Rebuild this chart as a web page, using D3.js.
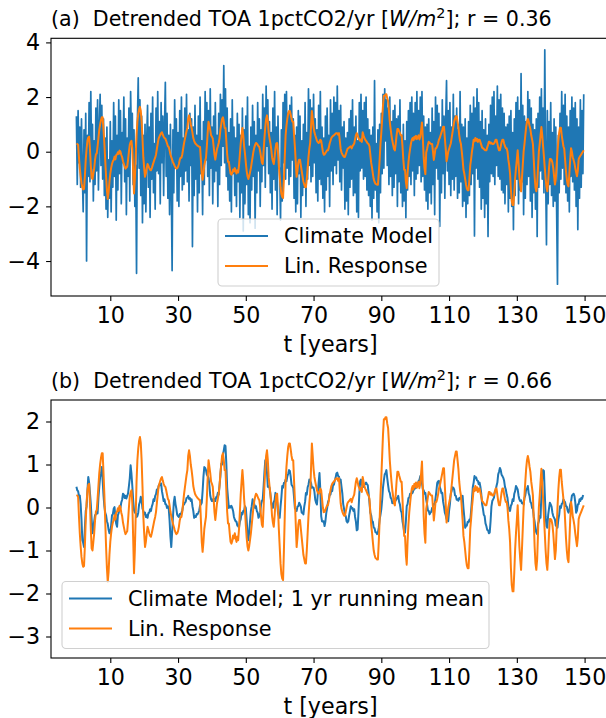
<!DOCTYPE html>
<html><head><meta charset="utf-8">
<script src="https://cdn.jsdelivr.net/npm/d3@7"></script>
<style>body{margin:0;background:#fff}svg{display:block}text{font-family:"DejaVu Sans",sans-serif}</style>
</head><body><svg id="c" width="606" height="718"></svg>
<script>
// ---- data (4 samples per year, t = i/4) ----
const stepsPerYear = 4;
const xTicks = [10,30,50,70,90,110,130,150];
const yTicksA = [-4,-2,0,2,4];
const yTicksB = [-3,-2,-1,0,1,2];
const legendA = ["Climate Model","Lin. Response"];
const legendB = ["Climate Model; 1 yr running mean","Lin. Response"];
const xLabel = "t [years]";

const climateModel = [
1.3,-1.2,1.5,-0.4, 0.9,-1.3,1.2,-0.8, -2.2,0.8,-1.5,1.4, -4.0,0.6,-0.9,1.8, -1.1,2.2,-0.6,1.0,
-1.8,0.4,-1.2,1.6, -0.7,1.9,-1.4,0.8, 2.1,-0.5,1.7,-1.0, 1.2,-1.6,0.5,-2.1, 0.9,-2.4,-0.3,-1.7,
1.1,-2.2,0.4,-1.3, 1.8,-0.9,1.3,-2.5, 0.6,-1.4,1.9,-0.8, 1.5,-1.9,0.7,-0.4, 2.0,-1.1,1.2,-2.3,
0.5,-0.9,1.6,-1.8, 2.2,0.3,1.4,-1.2, 0.8,-2.0,-0.5,-4.45, 1.1,2.7,-0.6,1.9, -1.6,1.3,-2.6,0.6,
-1.9,1.0,-2.2,0.4, 1.7,-1.3,0.9,-2.4, 1.4,-1.0,2.0,-1.5, 0.3,-2.1,1.6,-0.7, 2.2,-0.8,1.1,-1.9,
1.8,-0.4,1.3,-1.6, 0.9,2.54,-0.9,1.4, -1.7,0.6,-2.3,1.0, -1.2,-4.35,0.8,-1.5, 1.9,-0.6,1.2,-1.8,
0.7,-2.0,1.5,-0.9, 2.0,-1.4,0.5,-1.2, 1.6,-0.7,2.1,-1.1, 0.8,-1.8,1.4,-0.5, 1.2,-3.47,0.9,-1.6,
1.7,-1.0,0.6,-2.2, 1.3,-1.5,2.0,-0.8, 0.4,-2.3,1.1,-1.2, 2.2,-0.3,1.8,-0.9, 1.5,-1.6,2.3,-0.6,
0.9,-1.9,1.3,-1.1, 1.8,-0.7,0.6,-2.0, 1.4,-1.2,2.1,-0.5, 1.9,0.2,3.15,-0.4, 2.3,-0.9,1.6,-1.4,
0.7,-1.8,1.2,-2.2, 1.9,-0.8,0.9,-1.6, 0.5,-2.0,1.4,-1.1, 1.0,-2.4,0.6,-1.5, 1.6,-2.9,0.8,-1.9,
1.3,-1.2,2.0,-2.3, 0.2,-2.6,0.9,-1.4, 1.7,-0.9,1.1,-2.8, 0.6,-1.5,1.8,-0.7, 1.2,-2.0,0.8,-1.1,
2.1,-0.5,1.6,-1.3, 2.4,0.2,1.9,-0.8, 1.1,-1.5,0.7,-2.1, 1.6,-1.0,2.2,-1.4, 0.9,-2.3,1.3,-0.6,
-0.6,-2.5,0.8,-1.8, 1.8,-0.4,2.1,-1.0, 2.2,-0.6,1.4,-1.2, 1.7,-0.9,2.0,-0.3, 1.2,-1.7,0.6,-2.2,
0.9,-1.9,1.5,-0.8, 1.3,-2.4,0.4,-1.6, 1.0,-1.3,1.8,-2.0, 0.7,-1.0,2.3,-0.5, 1.9,-1.1,1.6,-0.9,
2.1,-0.4,1.2,-1.5, 0.8,-1.8,1.7,-1.0, 2.2,-1.2,0.9,-1.7, 0.5,-2.2,1.3,-1.4, 1.6,-0.9,0.6,-2.0,
1.9,-0.7,1.4,-1.2, 2.0,-0.5,1.8,-0.8, 2.4,-0.3,1.5,-1.1, 1.7,-1.4,0.9,-0.6, 1.1,-2.1,0.5,-1.8,
0.7,-2.3,1.2,-1.3, 1.5,-1.0,1.9,-1.6, 0.9,-1.5,1.3,-2.2, 0.4,-2.4,1.8,-0.7, 2.1,-0.6,1.5,-1.0,
1.8,-0.9,2.0,-1.4, 1.2,-1.6,0.8,-2.0, 0.6,-2.5,0.9,-1.7, 2.6,-1.4,0.3,-2.2, 0.8,-2.6,1.0,-1.5,
1.4,-0.8,2.1,-0.6, 2.3,0.4,1.9,-0.5, 1.6,-1.2,2.0,-0.9, 1.1,-1.6,1.5,-1.3, 1.7,-0.8,1.2,-2.0,
1.3,-1.1,1.9,-1.5, 0.6,-2.0,1.0,-1.8, 0.4,-2.42,1.1,-1.4, 1.5,-0.9,1.8,-1.2, 2.0,-0.7,1.4,-1.6,
1.8,-1.0,2.2,-0.8, 1.5,-0.5,2.0,-1.1, 2.2,-0.9,1.3,-1.4, 0.9,-1.8,1.0,-2.1, 1.2,-1.5,0.7,-1.9,
1.6,-1.2,1.1,-2.3, 2.0,-0.6,1.7,-1.0, 1.4,-2.73,0.9,-1.5, 1.9,-0.8,1.3,-1.7, 1.1,2.6,-0.7,1.5,
-1.2,1.8,-1.6,0.9, -1.0,2.1,-1.4,1.3, -0.9,1.6,-1.7,0.8, -1.5,2.2,-1.1,1.0, -2.0,0.9,-1.8,1.2,
-2.4,0.5,-1.9,1.1, -1.6,1.7,-1.2,1.4, -0.8,2.0,-3.08,1.6, -0.6,2.3,-1.0,1.8, -1.3,1.1,-2.1,1.5,
-1.7,0.8,-2.4,1.2, -1.9,0.6,-3.1,1.0, -1.1,1.7,-0.8,2.0, -0.9,2.2,-1.2,1.3, -0.5,2.4,-0.9,1.9,
-1.0,2.1,-1.4,1.6, -1.5,1.4,-1.9,0.9, -1.2,1.0,-2.2,1.3, -1.7,1.5,-2.0,0.7, -2.85,1.2,-1.6,1.8,
-1.0,2.0,-1.9,1.5, -1.4,2.86,-1.1,1.7, -2.3,1.3,-1.7,1.1, -1.2,2.2,-0.9,1.9, -1.8,1.6,-2.4,1.0,
-1.5,0.8,-2.1,1.2, -3.1,1.4,-1.3,2.0, -0.7,2.3,-1.0,1.6, -1.5,3.73,-0.8,-3.4, 1.5,-1.9,1.1,-1.2,
1.8,-1.6,0.7,-2.0, 1.2,-1.8,0.9,-2.2, -4.85,0.6,-1.5,1.4, -1.0,2.2,-0.6,1.7, -1.2,2.1,-1.5,1.3,
-1.8,0.9,-2.2,1.5, -0.9,2.0,-1.1,1.6, -1.4,1.8,-2.0,1.2, -2.85,0.9,-1.7,1.9, -1.3,1.5,-0.8,2.1
];

const linResponse = [
0.29,0.28,0.25,-0.2, -0.6,-0.9,-1.15,-1.3, -1.38,-1.36,-0.9,-0.3, 0.1,0.4,0.52,0.55, 0.1,-0.5,-0.95,-1.0,
-0.8,-0.6,-0.3,-0.1, -0.06,0.2,0.5,0.8, 1.0,1.15,1.26,1.26, 0.8,0.3,-0.3,-0.9, -1.4,-1.73,-1.5,-1.1,
-0.8,-0.6,-0.45,-0.35, -0.3,-0.18,-0.28,-0.12, -0.1,-0.02,-0.08,0.04, 0.0,-0.12,-0.2,-0.35, -0.45,-0.55,-0.62,-0.58,
-0.55,-0.3,0.0,0.25, 0.35,0.4,0.1,-0.7, -1.53,-1.0,-0.2,0.6, 1.1,1.37,1.55,1.64, 1.5,1.1,0.5,-0.2,
-0.6,-0.92,-0.8,-0.6, -0.45,-0.52,-0.6,-0.66, -0.68,-0.6,-0.5,-0.4, -0.3,-0.22,-0.1,0.1, 0.3,0.48,0.55,0.62,
0.68,0.71,0.62,0.55, 0.5,0.48,0.4,0.3, 0.2,0.17,0.05,-0.1, -0.2,-0.29,-0.38,-0.45, -0.52,-0.58,-0.62,-0.6,
-0.55,-0.45,-0.3,-0.22, -0.22,-0.1,0.1,0.3, 0.45,0.6,0.75,0.87, 1.2,1.33,1.2,1.0, 0.87,0.7,0.5,0.4,
0.32,0.28,0.25,0.22, 0.2,0.18,0.17,-0.3, -0.8,-1.03,-0.8,-0.5, -0.35,-0.22,0.2,0.7, 1.1,0.95,0.8,0.6,
0.55,0.48,0.2,-0.1, -0.29,-0.1,0.1,0.2, 0.32,0.5,0.8,1.0, 1.2,1.26,1.1,0.87, 0.87,0.4,-0.1,-0.37,
-0.37,-0.6,-0.8,-0.84, -0.78,-0.65,-0.72,-0.6, -0.7,-0.8,-0.68,-0.76, -0.5,-0.1,0.3,0.6, 0.87,0.6,0.2,-0.06,
-0.4,-0.7,-0.9,-1.0, -0.9,-0.75,-0.6,-0.4, -0.2,0.0,0.15,0.25, 0.32,0.3,0.25,0.2, 0.17,0.0,-0.2,-0.4,
-0.45,0.0,0.5,0.9, 1.2,1.33,1.1,0.7, 0.5,0.32,0.1,-0.2, -0.35,-0.45,-0.2,0.1, 0.3,0.32,0.0,-0.5,
-0.9,-1.3,-1.55,-1.65, -1.69,-1.0,-0.2,0.6, 0.95,1.2,1.4,1.49, 1.49,1.35,1.2,1.1, 1.1,0.6,0.17,-0.4,
-0.92,-0.7,-0.4,-0.29, -0.29,-0.5,-0.7,-0.9, -1.1,-1.2,-1.3,-1.3, -1.0,-0.6,-0.2,0.1, 0.32,0.9,1.49,1.2,
0.9,0.71,0.6,0.5, 0.4,0.35,0.32,0.35, 0.44,0.4,0.2,0.0, -0.11,-0.1,-0.05,0.0, 0.05,0.05,0.15,0.3,
0.4,0.5,0.55,0.58, 0.6,0.63,0.66,0.68, 0.68,0.62,0.68,0.4, 0.1,-0.03,-0.1,-0.15, -0.19,-0.19,-0.1,0.0,
0.1,0.13,0.15,0.18, 0.2,0.12,0.2,0.25, 0.3,0.45,0.6,0.68, 0.6,0.5,0.45,0.4, 0.45,0.36,0.71,0.6,
0.5,0.44,0.4,0.35, 0.3,0.28,0.2,-0.1, -0.4,-0.58,-0.8,-1.0, -1.1,-1.17,-1.19,-1.21, -1.21,-0.8,-0.3,0.28,
0.7,1.2,1.7,2.05, 2.05,2.1,2.1,1.95, 1.85,1.5,1.1,0.83, 0.6,0.4,0.25,0.1, 0.05,0.3,0.6,0.83,
0.83,0.75,0.68,0.6, 0.6,0.2,-0.3,-0.66, -0.66,-1.1,-1.33,-0.8, -0.4,-0.11,0.1,0.3, 0.44,0.5,0.42,0.55,
0.48,0.58,0.46,0.52, 0.6,0.45,0.55,0.8, 1.07,0.5,-0.2,-0.6, -0.82,-0.03,0.1,0.25, 0.36,0.33,0.3,0.28,
0.28,0.0,-0.3,-0.1, 0.13,0.13,0.2,0.3, 0.44,0.5,0.6,0.7, 0.8,0.91,0.91,0.5, 0.1,-0.35,-0.2,0.0,
0.1,0.2,0.3,0.5, 0.7,0.9,1.1,1.2, 1.3,1.3,1.1,0.9, 0.6,0.4,0.28,0.0, -0.3,-0.66,-0.8,-1.0,
-1.2,-1.35,-1.41,-1.41, -1.0,-0.5,-0.27,0.0, 0.2,0.44,0.38,0.5, 0.4,0.47,0.36,0.44, 0.44,0.35,0.25,0.15,
0.13,0.1,0.07,0.05, 0.05,0.15,0.25,0.36, 0.36,0.3,0.33,0.28, 0.28,0.3,0.35,0.44, 0.44,0.3,0.15,0.05,
0.05,0.2,0.35,0.44, 0.44,0.3,0.2,0.13, 0.13,0.0,-0.3,-0.5, -0.8,-1.4,-1.8,-1.95, -1.95,-1.5,-0.97,-0.6,
-0.3,0.05,-0.4,-0.9, -1.2,-1.45,-1.0,-0.5, 0.0,0.28,0.6,0.9, 1.1,1.2,1.1,0.95, 0.83,0.6,0.45,0.28,
-0.3,-0.9,-1.3,-1.45, -1.2,-0.6,0.0,0.28, 0.6,0.9,0.6,0.2, -0.19,-0.6,-1.0,-1.3, -1.45,-1.1,-0.6,-0.27,
-0.27,-0.3,-0.4,-0.6, -0.9,-1.2,-1.0,-0.5, 0.0,0.4,0.7,0.88, 0.88,0.6,0.4,0.2, 0.1,-0.3,-0.7,-1.0,
-1.2,-1.27,-0.8,-0.3, 0.13,0.0,-0.2,-0.3, -0.42,-0.6,-0.75,-0.9, -0.7,-0.27,-0.2,-0.15, -0.1,-0.05,0.0,0.05
];

const climateModelRunning = [
0.48,0.4,0.38,0.27, 0.28,0.08,-0.28,-0.76, -0.82,-0.92,-0.48,-0.08, 0.02,0.38,0.71,0.58, 0.34,0.08,-0.28,-0.6,
-0.48,-0.32,-0.18,-0.16, -0.08,-0.14,0.22,0.48, 0.71,0.78,0.94,0.62, 0.28,0.03,-0.12,-0.18, -0.32,-0.38,-0.52,-0.6,
-0.58,-0.42,-0.18,-0.16, -0.03,0.01,-0.22,-0.38, -0.45,-0.18,-0.12,0.02, -0.01,0.12,0.18,0.32, 0.3,0.22,0.27,0.21,
0.27,0.33,0.5,0.68, 0.98,0.78,0.5,0.18, -0.06,-0.12,-0.13,-0.22, -0.2,-0.12,0.07,0.13, 0.25,0.17,-0.02,-0.08,
-0.16,-0.12,-0.22,-0.18, -0.24,-0.13,-0.12,-0.04, -0.08,0.02,0.08,0.19, 0.15,0.27,0.31,0.42, 0.38,0.5,0.54,0.52,
0.56,0.38,0.27,0.15, 0.19,0.08,0.07,-0.01, 0.03,-0.02,-0.3,-0.68, -0.92,-0.58,-0.22,0.12, 0.25,0.08,-0.03,-0.17,
-0.2,-0.22,-0.15,-0.16, -0.12,-0.07,0.05,0.07, 0.11,0.13,0.22,0.23, 0.27,0.2,0.22,0.15, 0.19,0.03,-0.08,-0.24,
-0.2,-0.22,-0.15,-0.16, -0.12,-0.07,0.05,0.07, 0.11,0.38,0.72,0.94, 0.92,0.87,0.76,0.73, 0.69,0.52,0.28,0.19,
0.15,0.19,0.14,0.2, 0.15,0.24,0.25,0.34, 0.3,0.52,0.73,1.02, 1.0,1.22,1.33,1.45, 1.43,1.02,0.46,0.22,
-0.01,0.03,0.0,0.04, -0.01,-0.08,-0.22,-0.28, -0.32,-0.33,-0.42,-0.43, -0.47,-0.33,-0.27,-0.12, -0.16,-0.08,-0.07,0.03,
-0.01,-0.28,-0.62,-0.76, -0.58,-0.32,-0.08,0.03, 0.19,0.1,0.08,-0.01, 0.03,-0.08,-0.12,-0.24, -0.2,-0.12,0.07,0.15,
0.19,0.48,0.82,1.1, 1.08,0.82,0.48,0.5, 0.46,0.32,0.13,0.03, -0.01,0.12,0.18,0.34, 0.3,0.12,-0.12,-0.2,
-0.24,0.02,0.23,0.5, 0.46,0.57,0.58,0.65, 0.61,0.72,0.78,0.87, 0.85,0.72,0.53,0.5, 0.46,0.22,-0.02,-0.04,
-0.08,0.02,0.03,0.11, 0.07,0.02,-0.12,-0.12, -0.16,0.02,0.13,0.34, 0.3,0.47,0.53,0.65, 0.61,0.57,0.46,0.47,
0.46,0.37,0.18,0.11, 0.07,0.32,0.58,0.8, 0.4,-0.2,-0.32,-0.33, -0.32,-0.43,-0.32,-0.13, -0.02,0.12,0.18,0.32,
0.3,0.42,0.38,0.52, 0.53,0.62,0.69,0.79, 0.81,0.73,0.72,0.61, 0.65,0.48,0.32,0.08, -0.03,-0.17,-0.2,-0.32,
-0.35,-0.32,-0.18,-0.08, 0.03,-0.02,-0.01,-0.08, -0.04,-0.22,-0.33,-0.53, -0.51,-0.12,0.32,0.61, 0.65,0.53,0.5,0.48,
0.54,0.54,0.58,0.54, 0.52,0.33,0.12,-0.12, -0.18,-0.32,-0.33,-0.47, -0.48,-0.57,-0.58,-0.62, -0.58,-0.47,-0.28,-0.17,
-0.04,0.18,0.47,0.63, 0.77,0.8,0.87,0.68, 0.52,0.38,0.34,0.23, 0.2,0.1,0.11,0.1, 0.17,0.16,0.22,0.21,
0.27,0.13,0.07,-0.07, -0.12,-0.32,-0.43,-0.57, -0.58,-0.32,0.03,0.08, 0.22,0.23,0.32,0.29, 0.34,0.34,0.42,0.42,
0.48,0.46,0.5,0.53, 0.62,0.64,0.73,0.63, 0.57,0.43,0.4,0.32, 0.34,0.18,0.07,-0.07, -0.08,-0.16,-0.12,-0.1,
-0.01,0.0,0.08,0.07, 0.22,0.38,0.57,0.61, 0.62,0.48,0.42,0.33, 0.34,0.13,0.02,-0.12, -0.18,-0.27,-0.26,-0.32,
-0.08,0.08,0.32,0.38, 0.47,0.46,0.42,0.28, 0.27,0.18,0.19,0.16, 0.22,0.2,0.26,0.23, 0.27,-0.02,-0.23,-0.47,
-0.43,-0.42,-0.33,-0.34, -0.28,-0.32,-0.08,0.18, 0.47,0.58,0.73,0.68, 0.7,0.63,0.62,0.54, 0.58,0.48,0.32,0.08,
-0.03,-0.17,-0.2,-0.37, -0.43,-0.52,-0.53,-0.6, -0.58,-0.32,0.02,0.15, 0.19,0.23,0.37,0.4, 0.5,0.58,0.77,0.83,
0.92,0.87,0.76,0.73, 0.69,0.62,0.48,0.42, 0.3,0.22,0.03,-0.04, -0.08,0.04,0.08,0.19, 0.15,0.32,0.38,0.5,
0.46,0.42,0.28,0.19, 0.15,0.17,0.1,0.11, 0.07,0.22,0.28,0.42, 0.43,0.5,0.33,0.27, 0.13,0.1,-0.01,-0.03,
-0.22,-0.33,-0.52,-0.58, -0.62,-0.38,-0.32,-0.2, -0.24,0.32,0.68,0.87, 0.85,0.32,-0.22,-0.43, -0.47,-0.18,-0.02,0.11,
0.07,0.02,-0.12,-0.2, -0.24,-0.28,-0.42,-0.43, -0.47,-0.28,-0.17,0.03, -0.01,0.08,0.1,0.19, 0.15,0.12,0.03,0.02,
-0.07,-0.12,-0.07,0.07, 0.13,0.27,0.3,0.32, 0.27,0.12,-0.12,-0.07, 0.07,0.08,0.19,0.15, 0.22,0.2,0.27,0.26
];

// ---- layout ----
const svg = d3.select("#c");
svg.append("rect").attr("width",606).attr("height",718).attr("fill","#fff");
const FONT = "DejaVu Sans, sans-serif";
const BLUE = "#1f77b4", ORANGE = "#ff7f0e";

function drawPanel(cfg){
  const x = d3.scaleLinear().domain([-7.5,157.5]).range([51,610]);
  const y = d3.scaleLinear().domain(cfg.ydom).range([cfg.bottom,cfg.top]);
  const g = svg.append("g");
  const line = d3.line().x((d,i)=>x(i/stepsPerYear)).y(d=>y(d));
  g.append("path").datum(cfg.blue).attr("d",line).attr("fill","none")
    .attr("stroke",BLUE).attr("stroke-width",cfg.blueWidth).attr("stroke-linejoin","round");
  g.append("path").datum(cfg.orange).attr("d",line).attr("fill","none")
    .attr("stroke",ORANGE).attr("stroke-width",2).attr("stroke-linejoin","round");

  // x axis
  const xa = g.append("g").attr("transform",`translate(0,${cfg.bottom})`)
    .call(d3.axisBottom(x).tickValues(xTicks).tickSize(4.9).tickSizeOuter(0).tickPadding(6).tickFormat(d3.format("d")));
  xa.select(".domain").remove();
  xa.selectAll("line").attr("stroke","#000").attr("stroke-width",1.1);
  xa.selectAll("text").attr("font-family",FONT).attr("font-size",22.2).attr("fill","#000");
  // y axis
  const ya = g.append("g").attr("transform",`translate(51,0)`)
    .call(d3.axisLeft(y).tickValues(cfg.yticks).tickSize(4.9).tickSizeOuter(0).tickPadding(6)
      .tickFormat(d=> d<0 ? "\u2212"+Math.abs(d) : String(d)));
  ya.select(".domain").remove();
  ya.selectAll("line").attr("stroke","#000").attr("stroke-width",1.1);
  ya.selectAll("text").attr("font-family",FONT).attr("font-size",22.2).attr("fill","#000");

  // frame
  g.append("rect").attr("x",51).attr("y",cfg.top).attr("width",610-51).attr("height",cfg.bottom-cfg.top)
    .attr("fill","none").attr("stroke","#000").attr("stroke-width",1.1);

  // title
  const t = g.append("text").attr("x",51).attr("y",cfg.titleY).attr("font-family",FONT)
    .attr("font-size",20.6).attr("fill","#000").style("white-space","pre");
  t.append("tspan").text(cfg.label+"\u00a0\u00a0Detrended TOA 1pctCO2/yr [");
  t.append("tspan").attr("font-style","italic").text("W/m");
  t.append("tspan").attr("font-size",14.4).attr("dy",-8).text("2");
  t.append("tspan").attr("dy",8).text("]; r = "+cfg.r);

  // x label
  g.append("text").attr("x",(51+610)/2).attr("y",cfg.xlabelY).attr("text-anchor","middle")
    .attr("font-family",FONT).attr("font-size",22.2).attr("fill","#000").text(xLabel);

  // legend
  const L = cfg.legend;
  g.append("rect").attr("x",L.x).attr("y",L.y).attr("width",L.w).attr("height",L.h)
    .attr("rx",4).attr("fill","#fff").attr("fill-opacity",0.8)
    .attr("stroke","#d0d0d0").attr("stroke-width",1.1);
  const items = [{c:BLUE,t:L.labels[0]},{c:ORANGE,t:L.labels[1]}];
  items.forEach((it,i)=>{
    const yy = L.y + L.firstRow + i*30;
    g.append("line").attr("x1",L.x+7).attr("x2",L.x+50).attr("y1",yy).attr("y2",yy)
      .attr("stroke",it.c).attr("stroke-width",2);
    g.append("text").attr("x",L.x+66).attr("y",yy).attr("dy","0.35em")
      .attr("font-family",FONT).attr("font-size",20.8).attr("fill","#000").text(it.t);
  });
}

drawPanel({label:"(a)", r:"0.36", ydom:[-5.28,4.15], top:38.3, bottom:296, yticks:yTicksA,
  blue:climateModel, orange:linResponse, blueWidth:1.7, titleY:26, xlabelY:352,
  legend:{x:218,y:219,w:221,h:67,firstRow:17,labels:legendA}});
drawPanel({label:"(b)", r:"0.66", ydom:[-3.5,2.5], top:400, bottom:658, yticks:yTicksB,
  blue:climateModelRunning, orange:linResponse, blueWidth:2, titleY:388, xlabelY:714,
  legend:{x:62,y:581.5,w:427,h:67,firstRow:17,labels:legendB}});
</script></body></html>
